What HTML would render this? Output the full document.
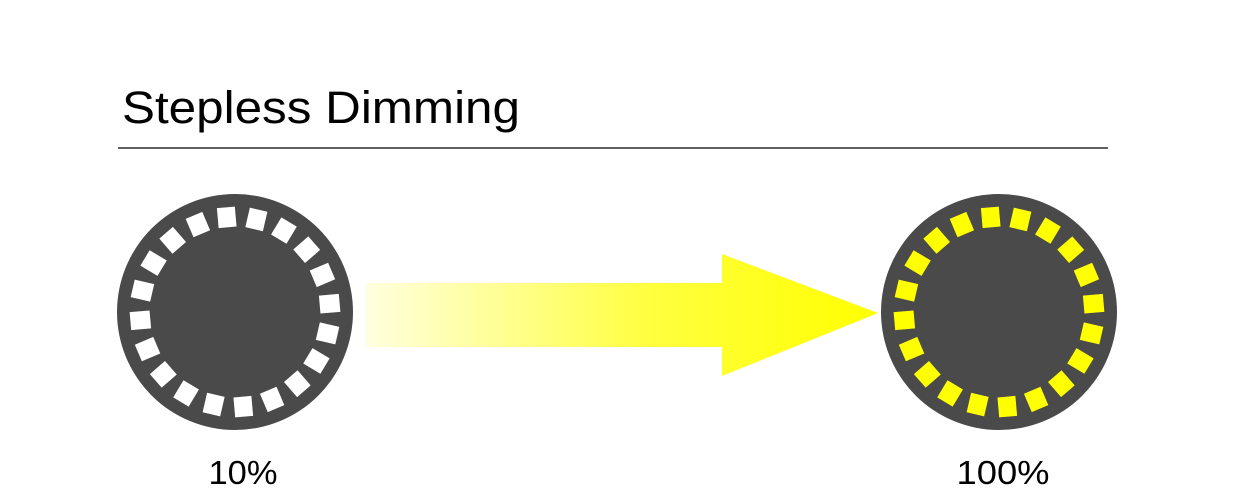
<!DOCTYPE html>
<html><head><style>body{margin:0;background:#fff;}svg{display:block}</style></head><body>
<svg width="1250" height="500" xmlns="http://www.w3.org/2000/svg">
<defs>
<linearGradient id="g" x1="366" y1="0" x2="878" y2="0" gradientUnits="userSpaceOnUse">
<stop offset="0" stop-color="#ffffe0"/><stop offset="0.55" stop-color="#ffff40"/><stop offset="1" stop-color="#ffff00"/>
</linearGradient>
<g id="seg"><rect x="-9" y="-105" width="18" height="20"/></g>
</defs>
<text x="122" y="123" font-family="Liberation Sans, sans-serif" font-size="45" textLength="398" lengthAdjust="spacingAndGlyphs" fill="#000">Stepless Dimming</text>
<line x1="118" y1="148" x2="1108" y2="148" stroke="#000" stroke-width="1.2"/>
<polygon points="366,283 722,283 722,254 878,313 722,376 722,347 366,347" fill="url(#g)"/>
<g transform="translate(235,312)">
<circle r="118" fill="#4a4a4a"/>
<g fill="#fff">
<use href="#seg" transform="rotate(-5)"/><use href="#seg" transform="rotate(13)"/><use href="#seg" transform="rotate(31)"/><use href="#seg" transform="rotate(49)"/><use href="#seg" transform="rotate(67)"/><use href="#seg" transform="rotate(85)"/><use href="#seg" transform="rotate(103)"/><use href="#seg" transform="rotate(121)"/><use href="#seg" transform="rotate(139)"/><use href="#seg" transform="rotate(157)"/><use href="#seg" transform="rotate(175)"/><use href="#seg" transform="rotate(193)"/><use href="#seg" transform="rotate(211)"/><use href="#seg" transform="rotate(229)"/><use href="#seg" transform="rotate(247)"/><use href="#seg" transform="rotate(265)"/><use href="#seg" transform="rotate(283)"/><use href="#seg" transform="rotate(301)"/><use href="#seg" transform="rotate(319)"/><use href="#seg" transform="rotate(337)"/>
</g></g>
<g transform="translate(999,312)">
<circle r="118" fill="#4a4a4a"/>
<g fill="#ffff00">
<use href="#seg" transform="rotate(-5)"/><use href="#seg" transform="rotate(13)"/><use href="#seg" transform="rotate(31)"/><use href="#seg" transform="rotate(49)"/><use href="#seg" transform="rotate(67)"/><use href="#seg" transform="rotate(85)"/><use href="#seg" transform="rotate(103)"/><use href="#seg" transform="rotate(121)"/><use href="#seg" transform="rotate(139)"/><use href="#seg" transform="rotate(157)"/><use href="#seg" transform="rotate(175)"/><use href="#seg" transform="rotate(193)"/><use href="#seg" transform="rotate(211)"/><use href="#seg" transform="rotate(229)"/><use href="#seg" transform="rotate(247)"/><use href="#seg" transform="rotate(265)"/><use href="#seg" transform="rotate(283)"/><use href="#seg" transform="rotate(301)"/><use href="#seg" transform="rotate(319)"/><use href="#seg" transform="rotate(337)"/>
</g></g>
<text x="243" y="484" text-anchor="middle" font-family="Liberation Sans, sans-serif" font-size="33" textLength="69" lengthAdjust="spacingAndGlyphs" fill="#000">10%</text>
<text x="1003" y="484" text-anchor="middle" font-family="Liberation Sans, sans-serif" font-size="33" textLength="93" lengthAdjust="spacingAndGlyphs" fill="#000">100%</text>
</svg>
</body></html>
